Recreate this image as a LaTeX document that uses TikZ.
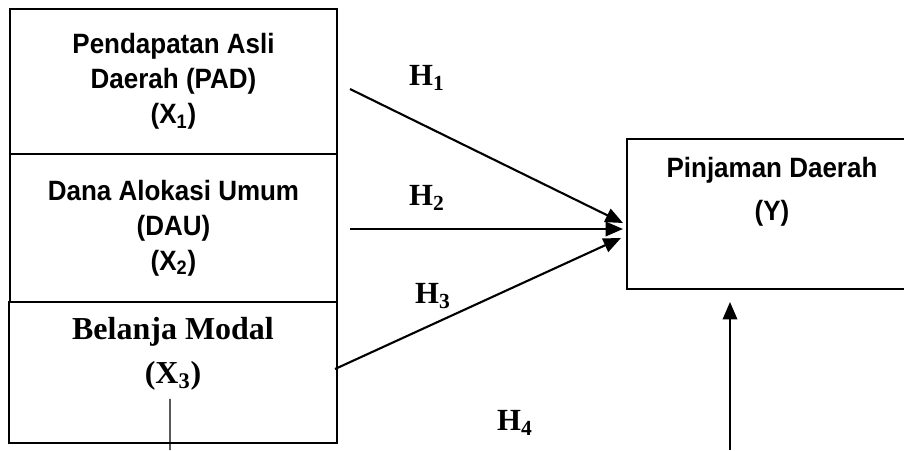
\documentclass[tikz,border=0pt]{standalone}
\usepackage{fontspec}
\setmainfont{Liberation Serif}
\newfontfamily\arialfont[FakeStretch=0.93]{Liberation Sans}
\usetikzlibrary{arrows.meta}

\begin{document}
\begin{tikzpicture}[
  >={Triangle[length=3.5mm,width=2.9mm]},
  var/.style={draw,line width=1.1pt,minimum width=6.54cm,inner sep=0pt,align=center,
    font=\arialfont\bfseries\fontsize{15.9}{19.9}\selectfont},
  lbl/.style={align=center,inner sep=0pt},
  hyp/.style={inner sep=0pt,font=\bfseries\fontsize{17.5}{20}\selectfont},
  arc/.style={->,line width=1.2pt}
]
\useasboundingbox (0,0) rectangle (18.08,9);
\clip (0,0) rectangle (18.08,9);
% variabel bebas
\node[var,minimum height=2.9cm] (x1) at (3.47,7.37) {Pendapatan Asli\\Daerah (PAD)\\(X\textsubscript{1})};
\node[var,minimum height=2.96cm] (x2) at (3.47,4.44) {Dana Alokasi Umum\\(DAU)\\(X\textsubscript{2})};
\node[var,minimum width=6.56cm,minimum height=2.82cm] (x3) at (3.46,1.55) {};
\node[lbl,font=\bfseries\fontsize{18.2}{25}\selectfont] (x3t) at (3.46,1.92) {Belanja Modal\\(X\textsubscript{3})};
% variabel terikat
\node[var,minimum width=5.8cm,minimum height=3cm] (y) at (15.44,4.72) {};
\node[lbl,font=\arialfont\bfseries\fontsize{15.9}{24.5}\selectfont] (yt) at (15.44,5.16) {Pinjaman Daerah\\(Y)};
% titik ujung panah
\coordinate (s1) at (7.00,7.22);
\coordinate (e1) at (12.46,4.54);
\coordinate (s2) at (7.00,4.42);
\coordinate (e2) at (12.46,4.42);
\coordinate (s3) at (6.70,1.62);
\coordinate (e3) at (12.42,4.24);
\coordinate (m4) at (14.60,0);
\coordinate (b3) at (3.40,0);
% hipotesis
\node[hyp] (h1) at (8.54,7.44) {H\textsubscript{1}};
\node[hyp] (h2) at (8.54,5.04) {H\textsubscript{2}};
\node[hyp] (h3) at (8.66,3.08) {H\textsubscript{3}};
\node[hyp] (h4) at (10.30,0.54) {H\textsubscript{4}};
\draw[arc] (s1) -- (e1);
\draw[arc] (s2) -- (e2);
\draw[arc] (s3) -- (e3);
\draw[arc,shorten >=0.24cm] (m4) -- (m4 |- y.south);
\draw[line width=0.6pt] (x3t.south) ++(-0.06,-0.16) -- (b3);
\end{tikzpicture}
\end{document}
